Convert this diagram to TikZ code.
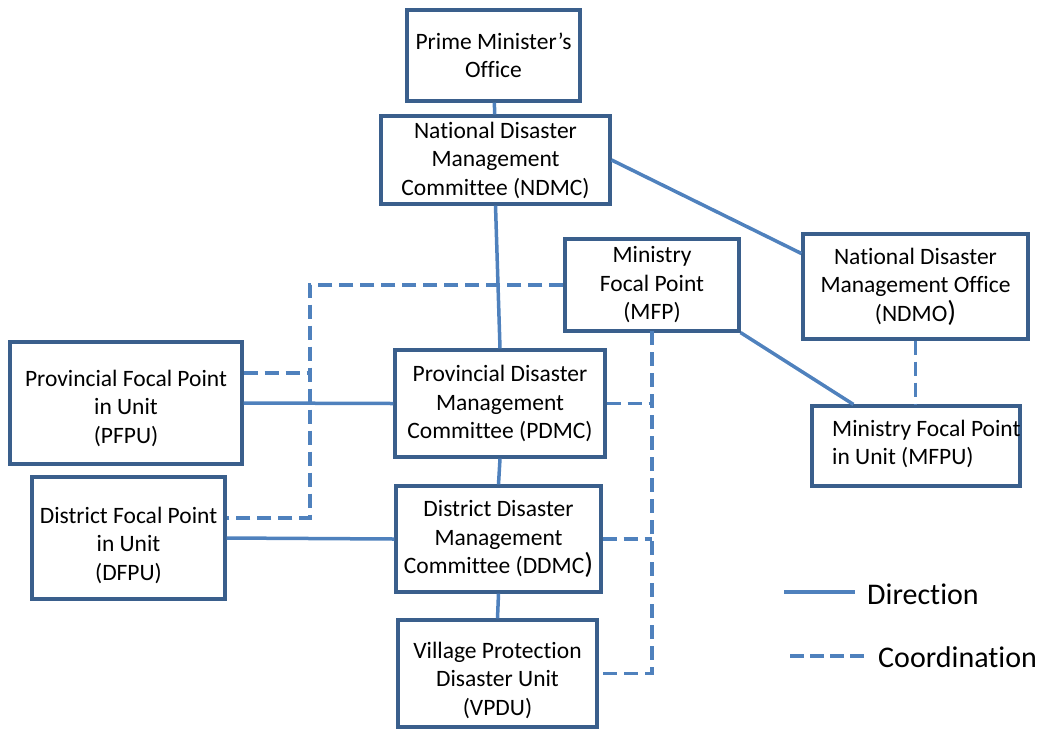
\documentclass[tikz,border=0pt]{standalone}
\usepackage{fontspec}
\setmainfont[Ligatures=NoCommon]{Carlito}
\definecolor{linkblue}{RGB}{79,129,189}
\definecolor{boxblue}{RGB}{58,95,140}
\tikzset{
  box/.style={draw=boxblue, line width=3.2pt, fill=white, inner sep=0pt,
    align=center, font=\fontsize{23.5}{28.5}\selectfont},
  txt/.style={inner sep=0pt, align=center, font=\fontsize{23.5}{28.5}\selectfont},
  dirline/.style={draw=linkblue, line width=3.5pt},
  coordline/.style={draw=linkblue, line width=3.5pt, dash pattern=on 14pt off 7pt},
  legtext/.style={inner sep=0pt, anchor=west, font=\fontsize{30}{32}\selectfont}
}
\newcommand{\bigparen}{{\fontsize{29}{28}\selectfont)}}
\begin{document}
\begin{tikzpicture}[x=1pt, y=-1pt]
\useasboundingbox (0,0) rectangle (1040,729);

% bus lines for coordination links
\coordinate (busL) at (310,286);
\coordinate (busR) at (652,331);

% organisation boxes
\node[box, minimum width=173pt, minimum height=91pt]  (pmo)  at (493.5,55.5) {Prime Minister’s\\Office};
\node[box, minimum width=229pt, minimum height=88pt]  (ndmc) at (495.5,160) {National Disaster\\Management\\Committee (NDMC)};
\node[box, minimum width=174pt, minimum height=92pt]  (mfp)  at (652,285) {Ministry\\Focal Point\\(MFP)};
\node[box, minimum width=225pt, minimum height=105pt] (ndmo) at (915.5,286.5) {National Disaster\\Management Office\\(NDMO\bigparen};
\node[box, minimum width=232pt, minimum height=122pt] (pfpu) at (126,403) {};
\node[txt] (pfput) at (126,408) {Provincial Focal Point\\in Unit\\(PFPU)};
\node[box, minimum width=210pt, minimum height=107pt] (pdmc) at (500,403.5) {Provincial Disaster\\Management\\Committee (PDMC)};
\node[box, minimum width=208pt, minimum height=80pt]  (mfpu) at (916,446) {};
\node[txt, align=left, anchor=west] (mfput) at (832,444) {Ministry Focal Point\\in Unit (MFPU)};
\node[box, minimum width=193pt, minimum height=122pt] (dfpu) at (128.5,538) {};
\node[txt] (dfput) at (128.5,545) {District Focal Point\\in Unit\\(DFPU)};
\node[box, minimum width=205pt, minimum height=106pt] (ddmc) at (498.5,539) {District Disaster\\Management\\Committee (DDMC\bigparen};
\node[box, minimum width=199pt, minimum height=107pt] (vpdu) at (497.5,673.5) {};
\node[txt] (vpdut) at (497.5,680) {Village Protection\\Disaster Unit\\(VPDU)};

% direction links
\draw[dirline] (pmo) -- (ndmc);
\draw[dirline] (ndmc.south) -- (pdmc.north);
\draw[dirline] (ndmc.east) -- ([yshift=33pt]ndmo.west);
\draw[dirline] (mfp.south east) -- ([xshift=43pt]mfpu.north west);
\draw[dirline] (pfpu.east) -- (pdmc.west);
\draw[dirline] (pdmc.south) -- (ddmc.north);
\draw[dirline] (dfpu.east) -- (ddmc.west);
\draw[dirline] (ddmc.south) -- (vpdu.north);

% coordination links
\draw[coordline] (mfp.west) -- (mfp.west -| busL) |- ([yshift=20pt]dfpu.east);
\draw[coordline] ([yshift=30pt]pfpu.east) -- ([yshift=30pt]pfpu.east -| busL);
\draw[coordline] (busR) |- (vpdu.east);
\draw[coordline] (pdmc.east) -- (pdmc.east -| busR);
\draw[coordline] (ddmc.east) -- (ddmc.east -| busR);
\draw[coordline] (ndmo.south) -- (ndmo.south |- mfpu.north);

% legend
\coordinate (lgA) at (784,592);
\coordinate (lgB) at (855,592);
\coordinate (lgC) at (790,656);
\coordinate (lgD) at (865,656);
\draw[dirline] (lgA) -- (lgB);
\node[legtext] (legdir) at (867,594) {Direction};
\draw[coordline, dash pattern=on 14pt off 6pt] (lgC) -- (lgD);
\node[legtext] (legcoord) at (878,657) {Coordination};
\end{tikzpicture}
\end{document}
